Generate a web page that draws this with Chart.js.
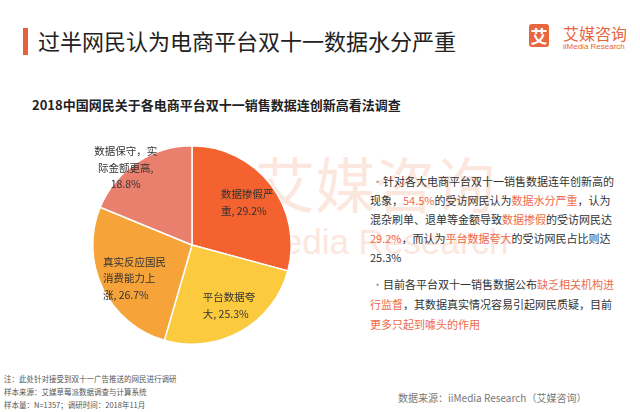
<!DOCTYPE html>
<html lang="zh-CN">
<head>
<meta charset="UTF-8">
<title>过半网民认为电商平台双十一数据水分严重</title>
<style>
    body {
        margin: 0;
        width: 640px;
        height: 412px;
        position: relative;
        overflow: hidden;
        background: #fff;
        font-family: "Noto Sans CJK SC", "Noto Sans", sans-serif;
        color: #333;
    }
    .abs { position: absolute; white-space: nowrap; }
    .bar { left: 23px; top: 28px; width: 5px; height: 27px; background: #e8603a; }
    .title { left: 38px; top: 25px; font-size: 22px; line-height: 30px; color: #222; }
    .logo-box { left: 529px; top: 24px; width: 20px; height: 23px; border-radius: 3px; background: #e8663d;
        color: #fff; font-size: 17px; line-height: 23px; text-align: center; font-weight: bold; }
    .logo-cn { left: 563px; top: 23px; font-size: 16px; line-height: 20px; color: #e8663d; }
    .logo-en { left: 563px; top: 42px; font-size: 8px; line-height: 10px; color: #e8663d; font-family: "Liberation Sans", Arial, sans-serif; }
    .subtitle { left: 32px; top: 95px; font-size: 13px; line-height: 20px; font-weight: bold; color: #222; }
    .wm-cn { left: 255px; top: 140px; font-size: 60px; line-height: 84px; color: #fbe7de; z-index: 0; }
    .wm-en { left: 238px; top: 222px; font-size: 35px; line-height: 40px; color: #fbe7de; z-index: 0;
        font-family: "Liberation Sans", Arial, sans-serif; }
    #pie { position: absolute; left: 72px; top: 125px; z-index: 1; }
    .txt { z-index: 2; font-size: 11px; line-height: 19px; color: #333; }
    .ln { display: block; width: 236px; text-align: justify; text-align-last: justify; }
    .ln.first { width: 223px; margin-left: 13px; }
    .ln.end { text-align-last: left; }
    .dot { position: absolute; left: 2px; color: #999; }
    .hl { color: #ee6a4c; }
    .note { left: 4px; font-size: 7.5px; line-height: 10px; color: #555; }
    .source { left: 398px; top: 391px; font-size: 10px; line-height: 14px; color: #777; }
</style>
</head>
<body>
    <div class="abs bar"></div>
    <div class="abs title">过半网民认为电商平台双十一数据水分严重</div>
    <div class="abs logo-box">艾</div>
    <div class="abs logo-cn">艾媒咨询</div>
    <div class="abs logo-en">iiMedia Research</div>

    <div class="abs subtitle">2018中国网民关于各电商平台双十一销售数据连创新高看法调查</div>

    <div class="abs wm-cn">艾媒咨询</div>
    <div class="abs wm-en">iiMedia Research</div>

    <canvas id="pie" width="240" height="240"></canvas>

    <div class="abs txt" style="left:370px; top:172px;">
        <span class="dot">·</span>
        <span class="ln first">针对各大电商平台双十一销售数据连年创新高的</span>
        <span class="ln">现象，<span class="hl">54.5%</span>的受访网民认为<span class="hl">数据水分严重</span>，认为</span>
        <span class="ln">混杂刷单、退单等金额导致<span class="hl">数据掺假</span>的受访网民达</span>
        <span class="ln"><span class="hl">29.2%</span>，而认为<span class="hl">平台数据夸大</span>的受访网民占比则达</span>
        <span class="ln end">25.3%</span>
    </div>
    <div class="abs txt" style="left:370px; top:274px; line-height:20px;">
        <span class="dot">·</span>
        <span class="ln first">目前各平台双十一销售数据公布<span class="hl">缺乏相关机构进</span></span>
        <span class="ln"><span class="hl">行监督</span>，其数据真实情况容易引起网民质疑，目前</span>
        <span class="ln end"><span class="hl">更多只起到噱头的作用</span></span>
    </div>

    <div class="abs note" style="top:374px;">注：此处针对接受到双十一广告推送的网民进行调研</div>
    <div class="abs note" style="top:387px;">样本来源：艾媒草莓派数据调查与计算系统</div>
    <div class="abs note" style="top:400px;">样本量：N=1357；调研时间：2018年11月</div>
    <div class="abs source">数据来源：iiMedia Research（艾媒咨询）</div>

    <script src="https://cdn.jsdelivr.net/npm/chart.js"></script>
    <script>
        // categories and values
        const categories = ['数据掺假严重', '平台数据夸大', '真实反应国民消费能力上涨', '数据保守，实际金额更高'];
        const values = [29.2, 25.3, 26.7, 18.8];
        // how each category name wraps inside the pie
        const labelWrap = [
            ['数据掺假严', '重'],
            ['平台数据夸', '大'],
            ['真实反应国民', '消费能力上', '涨'],
            ['数据保守，实', '际金额更高']
        ];
        const colors = ['#f4622f', '#fbca3f', '#f6a33a', '#e9806e'];

        // label placement: fraction of radius along mid angle, pixel nudge, alignment
        const labelPlace = [
            { r: 0.7, dx: 0, dy: 0, align: 'left', ownLine: false },
            { r: 0.7, dx: 3, dy: 0, align: 'left', ownLine: false },
            { r: 0.7, dx: 5, dy: 3, align: 'left', ownLine: false },
            { r: 1.0, dx: -11, dy: 5, align: 'center', ownLine: true }
        ];

        function linesFor(i) {
            const lines = labelWrap[i].slice();
            const v = values[i].toFixed(1) + '%';
            if (labelPlace[i].ownLine) {
                lines[lines.length - 1] += ',';
                lines.push(v);
            } else {
                lines[lines.length - 1] += ', ' + v;
            }
            return lines;
        }

        const sliceLabels = {
            id: 'sliceLabels',
            afterDatasetsDraw(chart) {
                const ctx = chart.ctx;
                const meta = chart.getDatasetMeta(0);
                ctx.save();
                ctx.font = '10.5px "Noto Sans CJK SC"';
                ctx.fillStyle = '#333';
                ctx.textBaseline = 'middle';
                meta.data.forEach(function (arc, i) {
                    const p = labelPlace[i];
                    const mid = (arc.startAngle + arc.endAngle) / 2;
                    const r = arc.outerRadius * p.r;
                    const cx = arc.x + Math.cos(mid) * r + p.dx;
                    const cy = arc.y + Math.sin(mid) * r + p.dy;
                    const lines = linesFor(i);
                    const w = Math.max.apply(null, lines.map(t => ctx.measureText(t).width));
                    lines.forEach(function (t, k) {
                        const y = cy + (k - (lines.length - 1) / 2) * 16.5;
                        if (p.align === 'center') {
                            ctx.textAlign = 'center';
                            ctx.fillText(t, cx, y);
                        } else {
                            ctx.textAlign = 'left';
                            ctx.fillText(t, cx - w / 2, y);
                        }
                    });
                });
                ctx.restore();
            }
        };

        new Chart(document.getElementById('pie'), {
            type: 'pie',
            data: {
                labels: categories,
                datasets: [{
                    data: values,
                    backgroundColor: colors,
                    borderColor: '#fff',
                    borderWidth: 1.5
                }]
            },
            options: {
                responsive: false,
                animation: false,
                layout: { padding: 20 },
                plugins: {
                    legend: { display: false },
                    tooltip: { enabled: false }
                }
            },
            plugins: [sliceLabels]
        });
    </script>
</body>
</html>
